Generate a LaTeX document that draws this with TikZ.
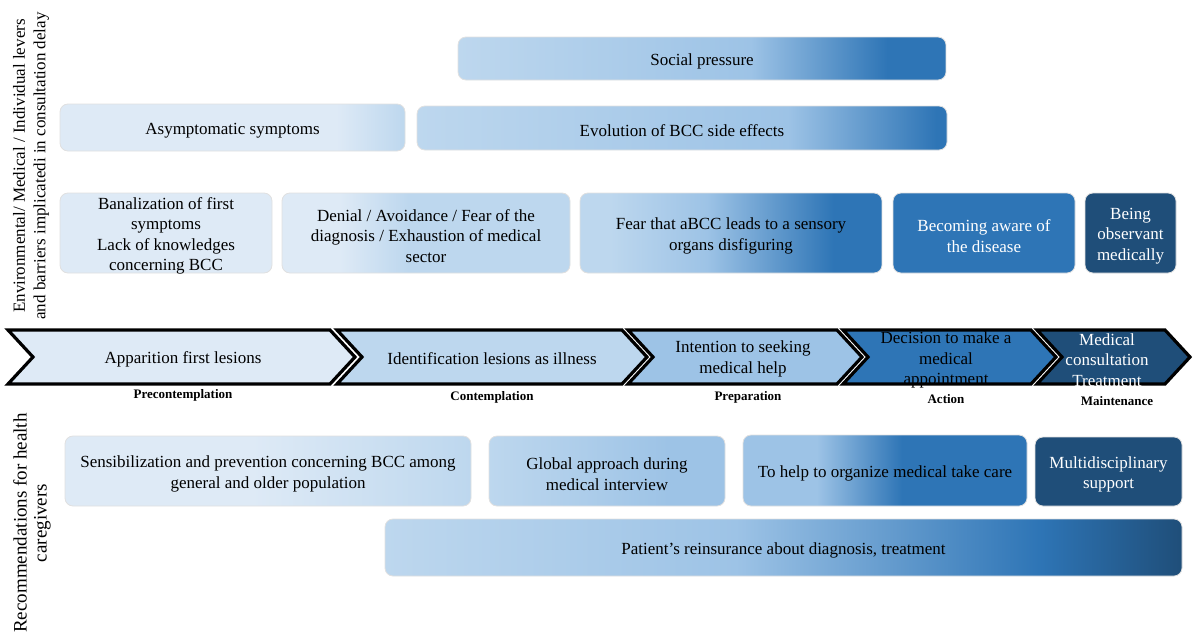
\documentclass[tikz,border=0pt]{standalone}
\usepackage{fontspec}
\setmainfont{Liberation Serif}
\definecolor{c1}{HTML}{DEEAF6}
\definecolor{c2}{HTML}{BDD7EE}
\definecolor{c3}{HTML}{9DC3E6}
\definecolor{c4}{HTML}{2E75B6}
\definecolor{c5}{HTML}{1F4E79}
\definecolor{c23}{HTML}{ADCDEA}
\pgfdeclarehorizontalshading{shSocial}{100bp}{color(0bp)=(c2); color(25bp)=(c2); color(55bp)=(c3); color(69bp)=(c4); color(100bp)=(c4)}
\pgfdeclarehorizontalshading{shEvol}{100bp}{color(0bp)=(c2); color(25bp)=(c2); color(60bp)=(c3); color(74bp)=(c4); color(100bp)=(c4)}
\pgfdeclarehorizontalshading{shAsym}{100bp}{color(0bp)=(c1); color(25bp)=(c1); color(65bp)=(c1); color(75bp)=(c2); color(100bp)=(c2)}
\pgfdeclarehorizontalshading{shDenial}{100bp}{color(0bp)=(c1); color(25bp)=(c1); color(35bp)=(c1); color(47bp)=(c2); color(100bp)=(c2)}
\pgfdeclarehorizontalshading{shFear}{100bp}{color(0bp)=(c2); color(25bp)=(c2); color(30bp)=(c2); color(46bp)=(c3); color(67bp)=(c4); color(100bp)=(c4)}
\pgfdeclarehorizontalshading{shSens}{100bp}{color(0bp)=(c1); color(25bp)=(c1); color(48bp)=(c1); color(75bp)=(c2); color(100bp)=(c2)}
\pgfdeclarehorizontalshading{shGlobal}{100bp}{color(0bp)=(c2); color(25bp)=(c2); color(45bp)=(c23); color(63bp)=(c3); color(100bp)=(c3)}
\pgfdeclarehorizontalshading{shHelp}{100bp}{color(0bp)=(c3); color(25bp)=(c3); color(38bp)=(c3); color(53bp)=(c4); color(100bp)=(c4)}
\pgfdeclarehorizontalshading{shPatient}{100bp}{color(0bp)=(c2); color(25bp)=(c2); color(47bp)=(c3); color(66bp)=(c4); color(75bp)=(c5); color(100bp)=(c5)}
\tikzset{
  box/.style={rounded corners=8pt, draw=black!12, line width=0.8pt, inner sep=0pt},
  boxtxt/.style={align=center, font=\fontsize{17}{20.5}\selectfont, inner sep=0pt},
  chev/.style={draw=black, line width=3.2pt, line join=miter},
  chevtext/.style={align=center, font=\fontsize{17}{20.5}\selectfont, inner sep=0pt},
  stage/.style={font=\fontsize{13}{15}\selectfont\bfseries, inner sep=0pt},
  side/.style={rotate=90, align=center, inner sep=0pt},
}
% #1 box options, #2 name, #3 centre, #4 text options, #5 text
\newcommand\mybox[5]{%
  \node[box,#1] (#2) at (#3) {};
  \node[boxtxt,#4] (#2-t) at ([yshift=-3pt]#2.center) {#5};}
\begin{document}
\begin{tikzpicture}[x=1pt,y=-1pt]
\useasboundingbox (0,0) rectangle (1193,637);

% side labels
\node[side, font=\fontsize{17}{20.5}\selectfont] (lab1) at (31,166) {Environmental/ Medical / Individual levers\\and barriers implicatedi in consultation delay};
\node[side, font=\fontsize{19}{20}\selectfont] (lab2) at (32,523) {Recommendations for health\\caregivers};

% row 1 and 2
\mybox{shading=shSocial, minimum width=488pt, minimum height=43pt}{social}{702,58.5}{}{Social pressure}
\mybox{shading=shAsym, minimum width=345pt, minimum height=47pt}{asym}{232.5,127.5}{}{Asymptomatic symptoms}
\mybox{shading=shEvol, minimum width=530pt, minimum height=44pt}{evol}{682,128}{}{Evolution of BCC side effects}

% row 3
\mybox{fill=c1, minimum width=212pt, minimum height=80pt}{banal}{166,233}{}{Banalization of first\\symptoms\\Lack of knowledges\\concerning BCC}
\mybox{shading=shDenial, minimum width=288pt, minimum height=80pt}{denial}{426,233}{}{Denial / Avoidance / Fear of the\\diagnosis / Exhaustion of medical\\sector}
\mybox{shading=shFear, minimum width=302pt, minimum height=80pt}{fear}{731,233}{}{Fear that aBCC leads to a sensory\\organs disfiguring}
\mybox{fill=c4, minimum width=182pt, minimum height=80pt}{aware}{984,233}{text=white}{Becoming aware of\\the disease}
\mybox{fill=c5, minimum width=91pt, minimum height=80pt}{observ}{1130.5,233}{text=white}{Being\\observant\\medically}

% chevrons
\draw[chev, fill=c1] (8,330) -- (33,357) -- (8,384) -- (330,384) -- (355,357) -- (330,330) -- cycle;
\draw[chev, fill=c2] (337,330) -- (362,357) -- (337,384) -- (622,384) -- (647,357) -- (622,330) -- cycle;
\draw[chev, fill=c3] (628,330) -- (653,357) -- (628,384) -- (837,384) -- (862,357) -- (837,330) -- cycle;
\draw[chev, fill=c4] (843,330) -- (868,357) -- (843,384) -- (1031,384) -- (1056,357) -- (1031,330) -- cycle;
\draw[chev, fill=c5] (1037,330) -- (1062,357) -- (1037,384) -- (1165,384) -- (1190,357) -- (1165,330) -- cycle;

\node[chevtext] (ch1) at (183,359) {Apparition first lesions};
\node[chevtext] (ch2) at (492,359) {Identification lesions as illness};
\node[chevtext] (ch3) at (743,359) {Intention to seeking\\medical help};
\node[chevtext] (ch4) at (946,360) {Decision to make a\\medical\\appointment};
\node[chevtext, text=white] (ch5) at (1107,360) {Medical\\consultation\\Treatment};

% stage labels
\node[stage] (s1) at (183,395) {Precontemplation};
\node[stage] (s2) at (492,397) {Contemplation};
\node[stage] (s3) at (748,397) {Preparation};
\node[stage] (s4) at (946,399) {Action};
\node[stage] (s5) at (1117,401) {Maintenance};

% recommendations
\mybox{shading=shSens, minimum width=406pt, minimum height=70pt}{sens}{268,471}{}{Sensibilization and prevention concerning BCC among\\general and older population}
\mybox{shading=shGlobal, minimum width=236pt, minimum height=70pt}{global}{607,471}{}{Global approach during\\medical interview}
\mybox{shading=shHelp, minimum width=284pt, minimum height=71pt}{help}{885,470.5}{}{To help to organize medical take care}
\mybox{fill=c5, minimum width=147pt, minimum height=69pt}{multi}{1108.5,471.5}{text=white}{Multidisciplinary\\support}
\mybox{shading=shPatient, minimum width=797pt, minimum height=57pt}{patient}{783.5,547.5}{}{Patient’s reinsurance about diagnosis, treatment}
\end{tikzpicture}
\end{document}
